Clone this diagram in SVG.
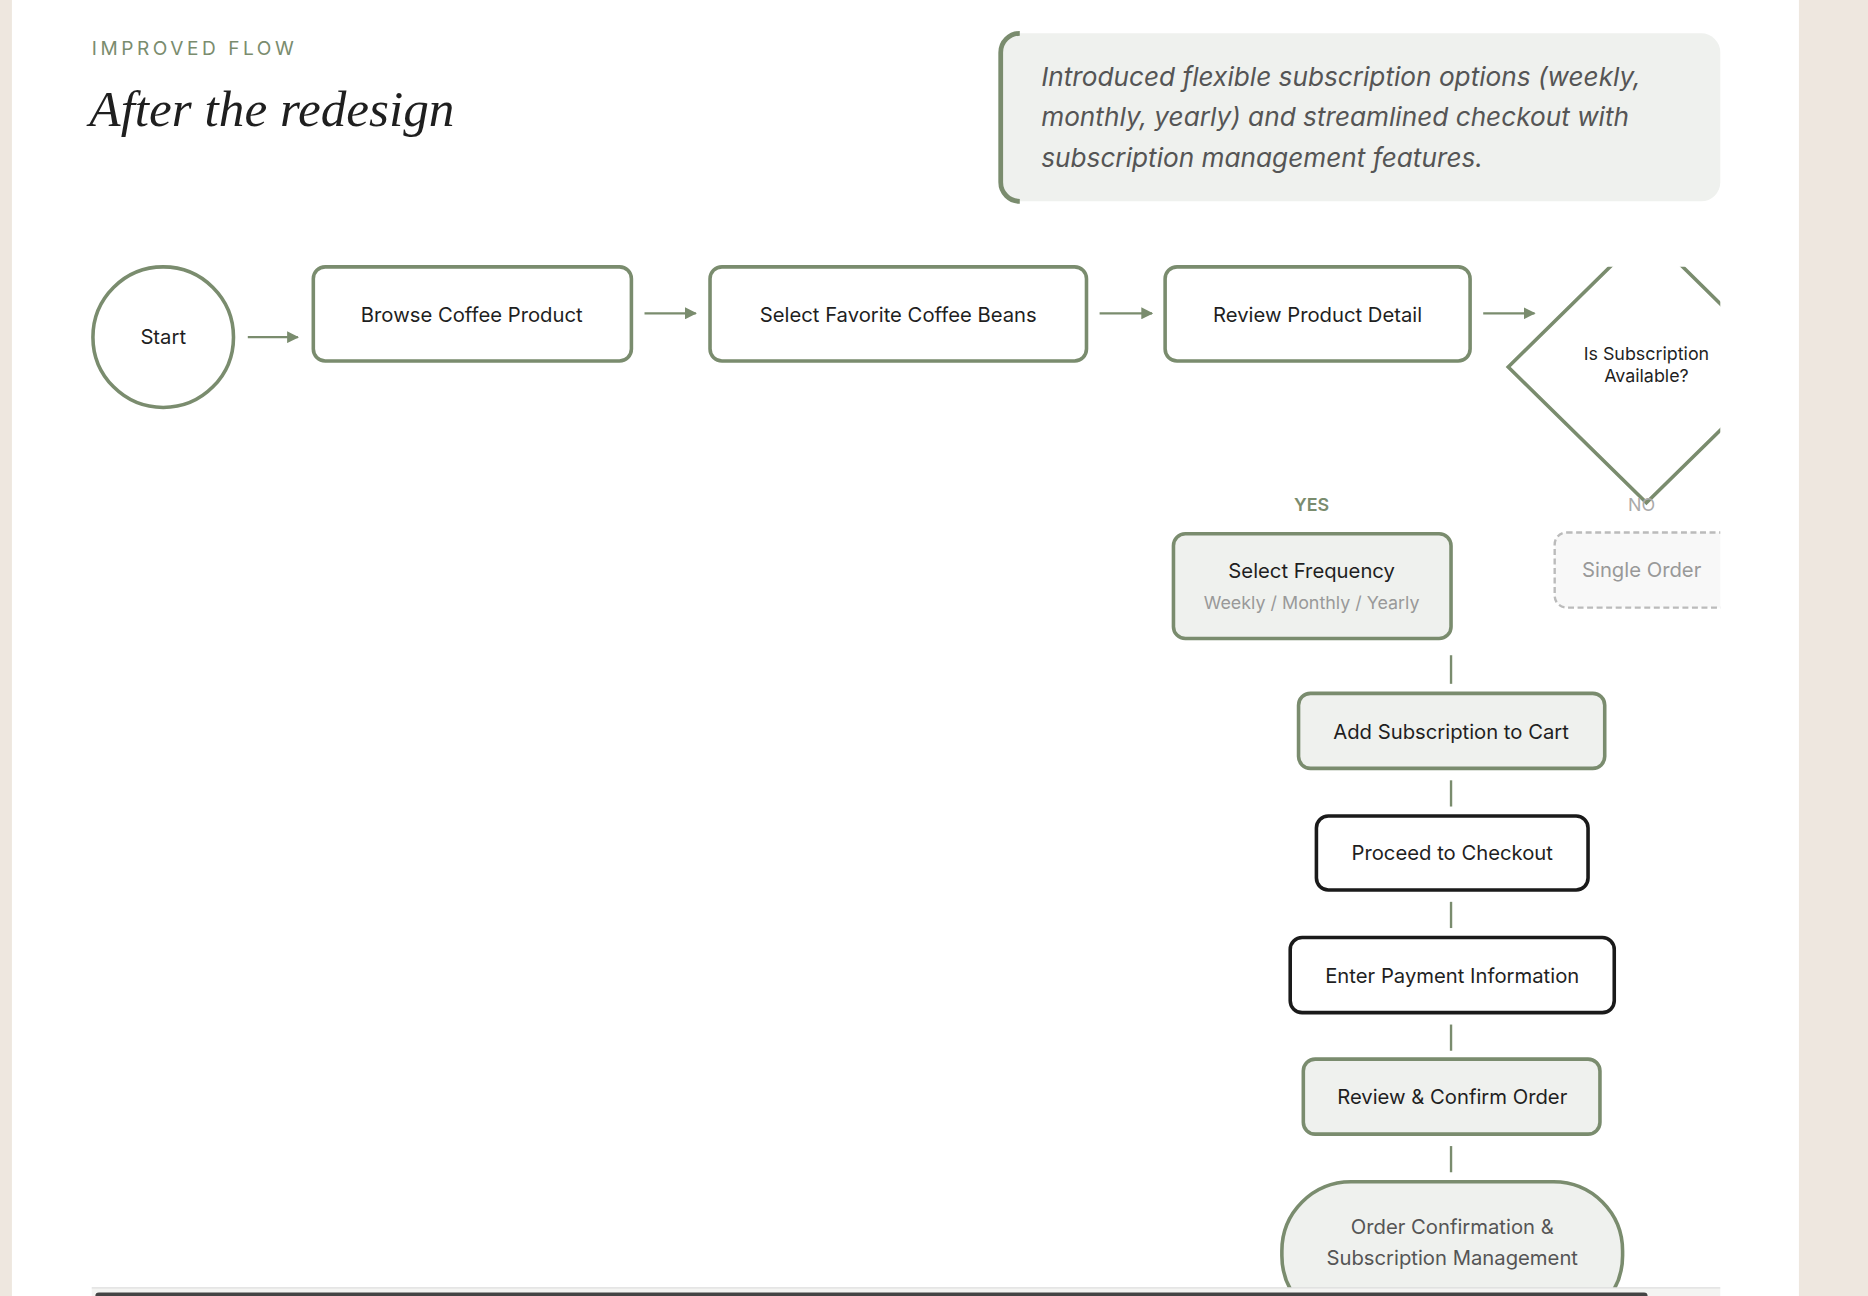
<svg xmlns="http://www.w3.org/2000/svg" width="1868" height="1296" viewBox="0 0 1868 1296">
<defs>
<style>
.t{font-family:Inter,"Noto Sans","Liberation Sans",sans-serif;fill:#1f1f1f;font-size:17px;text-anchor:middle}
.n{fill:#fff;stroke:#7a8c6e;stroke-width:3}
.g{fill:#eff1ee;stroke:#7a8c6e;stroke-width:3}
.k{fill:#fff;stroke:#1a1a1a;stroke-width:3}
.c{stroke:#7a8c6e;stroke-width:2;fill:none}
</style>
<marker id="ah" viewBox="0 0 10 10" refX="9" refY="5" markerWidth="5" markerHeight="5" orient="auto"><path d="M0,0L10,5L0,10z" fill="#7a8c6e"/></marker>
<clipPath id="cl"><rect x="0" y="224" width="1444" height="858"/></clipPath>
</defs>
<g transform="scale(1.19133)">
<rect width="1568" height="1088" fill="#eee7df"/>
<rect x="10" y="0" width="1500" height="1088" fill="#fff"/>
<text x="77" y="46" style="font-family:Inter,'Liberation Sans',sans-serif;font-size:16px;letter-spacing:3px;fill:#7a8c6e">IMPROVED FLOW</text>
<text x="75" y="106" style="font-family:'Liberation Serif',serif;font-style:italic;font-size:43px;fill:#1f1f1f">After the redesign</text>
<g id="note">
<rect x="840" y="28" width="604" height="141" rx="16" fill="#eff1ee"/>
<path d="M856,28 A16,16 0 0 0 840,44 V153 A16,16 0 0 0 856,169" fill="none" stroke="#7a8c6e" stroke-width="4"/>
<g style="font-family:Inter,'Liberation Sans',sans-serif;font-style:italic;font-size:22px;fill:#555">
<text x="874" y="72">Introduced flexible subscription options (weekly,</text>
<text x="874" y="106">monthly, yearly) and streamlined checkout with</text>
<text x="874" y="140">subscription management features.</text>
</g>
</g>
<g id="connectors">
<line class="c" x1="208" y1="283" x2="250" y2="283" marker-end="url(#ah)"/>
<line class="c" x1="541" y1="263" x2="584" y2="263" marker-end="url(#ah)"/>
<line class="c" x1="923" y1="263" x2="967" y2="263" marker-end="url(#ah)"/>
<line class="c" x1="1245" y1="263" x2="1288" y2="263" marker-end="url(#ah)"/>
<line class="c" x1="1218" y1="550" x2="1218" y2="574"/>
<line class="c" x1="1218" y1="655" x2="1218" y2="677"/>
<line class="c" x1="1218" y1="757" x2="1218" y2="779"/>
<line class="c" x1="1218" y1="860" x2="1218" y2="882"/>
<line class="c" x1="1218" y1="962" x2="1218" y2="984"/>
</g>
<g id="start"><circle class="n" cx="137" cy="283" r="59"/><text class="t" x="137" y="289">Start</text></g>
<g id="browse"><rect class="n" x="263" y="224" width="267" height="79" rx="10"/><text class="t" x="396" y="270">Browse Coffee Product</text></g>
<g id="select"><rect class="n" x="596" y="224" width="316" height="79" rx="10"/><text class="t" x="754" y="270">Select Favorite Coffee Beans</text></g>
<g id="review"><rect class="n" x="978" y="224" width="256" height="79" rx="10"/><text class="t" x="1106" y="270">Review Product Detail</text></g>
<g id="decision" clip-path="url(#cl)">
<polygon class="n" points="1382,194 1498,308 1382,422 1266,308"/>
<text class="t" x="1382" y="302" style="font-size:15px">Is Subscription</text>
<text class="t" x="1382" y="321" style="font-size:15px">Available?</text>
</g>
<text class="t" x="1101" y="429" style="font-size:15px;font-weight:600;fill:#7a8c6e">YES</text>
<text class="t" x="1378" y="429" style="font-size:15px;fill:#aaa">NO</text>
<g id="freq"><rect class="g" x="985" y="448" width="233" height="88" rx="10"/><text class="t" x="1101" y="485">Select Frequency</text><text class="t" x="1101" y="511" style="font-size:15px;fill:#999">Weekly / Monthly / Yearly</text></g>
<g id="single" clip-path="url(#cl)"><rect x="1305" y="447" width="170" height="63" rx="10" fill="#f8f8f8" stroke="#bbb" stroke-width="2" stroke-dasharray="5,3"/><text class="t" x="1378" y="484" style="fill:#999">Single Order</text></g>
<g id="cart"><rect class="g" x="1090" y="582" width="257" height="63" rx="10"/><text class="t" x="1218" y="620">Add Subscription to Cart</text></g>
<g id="checkout"><rect class="k" x="1105" y="685" width="228" height="62" rx="10"/><text class="t" x="1219" y="722">Proceed to Checkout</text></g>
<g id="payment"><rect class="k" x="1083" y="787" width="272" height="63" rx="10"/><text class="t" x="1219" y="825">Enter Payment Information</text></g>
<g id="confirm"><rect class="g" x="1094" y="889" width="249" height="63" rx="10"/><text class="t" x="1219" y="927">Review &amp; Confirm Order</text></g>
<g id="end" clip-path="url(#cl)"><rect class="g" x="1076" y="992" width="286" height="120" rx="58"/><text class="t" x="1219" y="1036" style="fill:#555">Order Confirmation &amp;</text><text class="t" x="1219" y="1062" style="fill:#555">Subscription Management</text></g>
<rect x="77" y="1081" width="1367" height="7" fill="#f4f4f2"/>
<line x1="77" y1="1081" x2="1444" y2="1081" stroke="#ddd" stroke-width="1"/>
<rect x="80" y="1085" width="1303" height="6" rx="3" fill="#444"/>
</g>
</svg>
